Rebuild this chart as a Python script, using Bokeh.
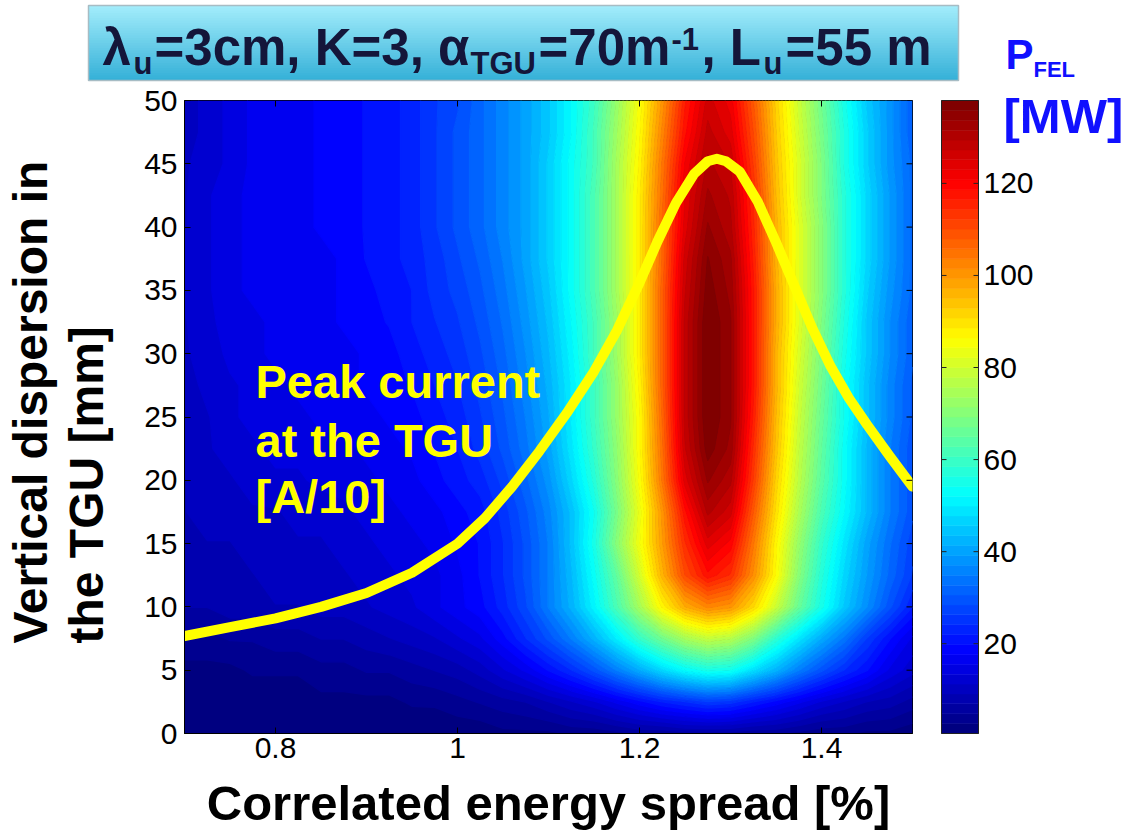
import numpy as np
from bokeh.plotting import figure
from bokeh.layouts import column, row
from bokeh.models import FixedTicker, Label, Range1d
from bokeh.core.properties import value
from bokeh.embed import file_html
from bokeh.resources import INLINE

# ---------------- data ----------------
# grid: correlated energy spread [%] (columns) and vertical dispersion [mm] (rows)
x_grid = [0.700, 0.725, 0.750, 0.775, 0.800, 0.825, 0.850, 0.875, 0.900, 0.925, 0.950,
          0.975, 1.000, 1.025, 1.050, 1.075, 1.100, 1.125, 1.150, 1.175, 1.200, 1.225,
          1.250, 1.275, 1.300, 1.325, 1.350, 1.375, 1.400, 1.425, 1.450, 1.475, 1.500]
y_grid = [0, 2.5, 5, 7.5, 10, 12.5, 15, 17.5, 20, 22.5, 25, 27.5, 30, 32.5, 35, 37.5,
          40, 42.5, 45, 47.5, 50]

# P_FEL [MW], one row per vertical dispersion value
p_y00_0 = [0.5,0.5,0.5,0.5,0.5,0.5,0.5,0.5,0.5,0.5,0.5,1,1,1,2,2,2,3,3,4,5,5,6,6,6,5,5,4,3,3,2,2,1]
p_y02_5 = [1,1,1,1,1,1,2,2,2,2,3,3,4,5,6,7,9,11,13,16,19,22,24,26,25,22,19,16,13,11,9,8,6]
p_y05_0 = [2,2,2,3,3,3,4,4,5,5,6,7,8,10,13,16,20,24,29,35,41,47,52,55,54,48,42,35,29,24,20,15,12]
p_y07_5 = [4,4,5,5,6,6,7,7,8,9,10,11,13,15,19,24,29,35,42,50,59,67,74,78,76,69,58,49,41,34,26,20,15]
p_y10_0 = [7,7,8,8,9,9,10,10,11,12,13,15,17,19,23,28,35,42,51,62,74,87,97,102,100,91,79,66,55,45,37,29,22]
p_y12_5 = [8,8,9,9,10,10,11,11,12,13,14,15,17,20,24,29,35,43,53,65,80,96,110,118,114,101,86,70,57,47,39,32,26]
p_y15_0 = [8,9,9,10,10,11,11,12,13,14,15,16,18,20,24,29,35,44,55,70,84,99,114,124,120,104,87,72,59,49,40,33,27]
p_y17_5 = [9,10,10,11,11,12,12,13,14,15,16,17,19,21,25,30,36,44,54,68,83,100,118,130,126,108,90,75,62,52,43,35,29]
p_y20_0 = [9,10,11,12,13,13,14,14,15,16,17,19,21,23,27,32,38,47,57,70,85,104,124,134,130,112,92,77,64,53,43,35,29]
p_y22_5 = [10,11,12,13,14,14,15,15,16,17,18,20,22,25,29,34,40,49,59,71,86,105,127,137,133,114,94,78,65,53,43,35,29]
p_y25_0 = [10,11,13,14,15,15,16,16,17,18,19,21,23,26,30,35,41,50,60,72,86,106,128,138,134,116,95,79,66,54,44,36,30]
p_y27_5 = [10,12,13,14,15,16,16,17,18,19,20,22,24,27,31,36,42,50,60,72,87,107,128,138,134,117,96,80,67,54,44,36,30]
p_y30_0 = [11,12,14,15,16,16,17,17,18,19,21,23,25,28,32,37,43,51,61,73,88,107,128,138,134,117,96,81,68,55,45,37,31]
p_y32_5 = [11,13,14,15,16,17,17,18,19,20,22,24,26,29,33,38,44,52,61,73,88,107,128,138,134,117,97,82,69,56,45,37,31]
p_y35_0 = [12,13,15,16,17,17,17,18,19,21,22,25,27,30,34,39,45,53,62,74,88,107,127,137,133,117,97,82,70,57,46,38,32]
p_y37_5 = [12,13,15,16,17,17,17,18,20,21,23,25,28,31,35,40,46,53,62,74,88,106,126,136,132,116,96,82,70,57,47,39,32]
p_y40_0 = [11,13,15,16,17,17,18,19,20,21,23,26,29,32,36,40,46,53,62,74,88,106,124,134,130,115,96,82,70,57,47,39,32]
p_y42_5 = [11,13,15,16,17,17,18,19,20,21,23,26,29,32,36,40,46,53,62,74,88,105,123,132,129,114,95,81,69,57,47,39,32]
p_y45_0 = [11,12,14,16,17,17,18,19,20,21,23,26,29,32,36,40,46,53,61,74,87,104,121,130,127,112,94,81,69,56,46,38,32]
p_y47_5 = [10,12,14,16,17,17,18,19,20,21,23,26,29,32,36,40,45,52,61,73,86,102,118,128,124,110,93,80,68,56,46,38,31]
p_y50_0 = [10,12,14,16,17,17,18,19,20,21,23,26,28,32,36,40,45,52,60,72,85,100,116,126,122,108,92,79,67,55,45,38,31]

# yellow curve: peak current at the TGU [A/10]
curve_x = [0.70, 0.75, 0.80, 0.85, 0.90, 0.95, 1.00, 1.03, 1.06, 1.09, 1.12, 1.15, 1.175,
           1.20, 1.22, 1.24, 1.26, 1.275, 1.285, 1.295, 1.31, 1.33, 1.35, 1.37, 1.39, 1.41,
           1.43, 1.45, 1.475, 1.50]
curve_y = [7.7, 8.4, 9.1, 10.0, 11.1, 12.7, 15.0, 17.0, 19.5, 22.3, 25.3, 28.6, 31.8,
           35.6, 38.9, 41.9, 44.2, 45.2, 45.4, 45.2, 44.4, 42.0, 38.8, 35.4, 32.0, 29.0,
           26.5, 24.4, 21.9, 19.5]

x_ticks = [0.8, 1.0, 1.2, 1.4]
x_tick_labels = ["0.8", "1", "1.2", "1.4"]
y_ticks = [0, 5, 10, 15, 20, 25, 30, 35, 40, 45, 50]
cb_ticks = [20, 40, 60, 80, 100, 120]
cb_tick_labels = ["20", "40", "60", "80", "100", "120"]
cb_low, cb_high = 0.5, 138.0

# ---------------- styling ----------------
def jet(n):
    cols = []
    for i in range(n):
        f = i / (n - 1)
        r = min(max(min(4 * f - 1.5, -4 * f + 4.5), 0), 1)
        g = min(max(min(4 * f - 0.5, -4 * f + 3.5), 0), 1)
        b = min(max(min(4 * f + 0.5, -4 * f + 2.5), 0), 1)
        cols.append("#%02x%02x%02x" % (int(round(r * 255)), int(round(g * 255)), int(round(b * 255))))
    return cols

FONT = "Liberation Sans"
TICK_FS = "30px"
W, H = 1131, 836
TOP_H = 82                      # height of the title strip
FRAME_L, FRAME_R, FRAME_T, FRAME_B = 184, 912, 100, 733
LEFT_W = 130                    # strip holding the y-axis title
MAIN_R = 920                    # right edge of the main figure
N_COL = 64
MID = 0.35                      # baseline -> middle offset (fraction of font size)
pal = jet(N_COL)


def mid(baseline, fs):
    return baseline - MID * fs


def deco_fig(w, h, xr, yr):
    f = figure(width=w, height=h, x_range=xr, y_range=yr, output_backend="svg",
               toolbar_location=None, x_axis_location=None, y_axis_location=None,
               min_border=0, min_border_left=0, min_border_right=0,
               min_border_top=0, min_border_bottom=0, frame_align=False)
    f.outline_line_color = None
    f.background_fill_color = "white"
    f.border_fill_color = "white"
    f.grid.visible = False
    return f

# ---------------- title strip ----------------
top = deco_fig(W, TOP_H, Range1d(0, W), Range1d(TOP_H, 0))
bx_l, bx_r, bx_t, bx_b = 88, 958, 5, 80
n_str = 30
top_c = np.array([164, 238, 252])
bot_c = np.array([52, 176, 216])
g_top, g_bot, g_col = [], [], []
for i in range(n_str):
    g_top.append(bx_t + i * (bx_b - bx_t) / n_str)
    g_bot.append(bx_t + (i + 1) * (bx_b - bx_t) / n_str + 0.4)
    c = top_c + (bot_c - top_c) * (i + 0.5) / n_str
    g_col.append("#%02x%02x%02x" % tuple(int(v) for v in c))
top.quad(left=bx_l, right=bx_r, top=g_top, bottom=g_bot, fill_color=g_col, line_color=None)
top.quad(left=bx_l, right=bx_r, top=bx_t, bottom=bx_b, fill_alpha=0, line_color="#a7bcc4",
         line_width=1.5)

TITLE_COL = "#14163a"
title_pieces = [
    ("λ", 102, 65, 51), ("u", 133, 74, 31), ("=3cm, K=3, α", 154, 65, 51),
    ("TGU", 470, 74, 31), ("=70m", 538, 65, 51), ("-1", 671, 49, 31),
    (", L", 701, 65, 51), ("u", 763, 74, 31), ("=55 m", 785, 65, 51),
]
for txt, cx, cy, fs in title_pieces:
    top.text(x=[cx], y=[mid(cy, fs)], text=[txt], text_font=value(FONT), text_font_style="bold",
             text_font_size=value(f"{fs}px"), text_color=TITLE_COL,
             text_align="left", text_baseline="middle")

PF_COL = "#1010ff"
top.text(x=[1005], y=[mid(69, 42)], text=["P"], text_font=value(FONT), text_font_style="bold",
         text_font_size=value("42px"), text_color=PF_COL, text_align="left",
         text_baseline="middle")
top.text(x=[1033], y=[mid(77, 22)], text=["FEL"], text_font=value(FONT), text_font_style="bold",
         text_font_size=value("22px"), text_color=PF_COL, text_align="left",
         text_baseline="middle")

# ---------------- y-axis title strip ----------------
BOT_H = H - TOP_H
left = deco_fig(LEFT_W, BOT_H, Range1d(0, LEFT_W), Range1d(H, TOP_H))
left.text(x=[mid(47, 48), mid(103, 48)], y=[643, 643],
          text=["Vertical dispersion in", "the TGU [mm]"],
          angle=np.pi / 2, text_font=value(FONT), text_font_style="bold",
          text_font_size=value("48px"), text_color="black",
          text_align="left", text_baseline="middle")

# ---------------- main plot ----------------
Z = np.array([p_y00_0, p_y02_5, p_y05_0, p_y07_5, p_y10_0, p_y12_5, p_y15_0, p_y17_5,
              p_y20_0, p_y22_5, p_y25_0, p_y27_5, p_y30_0, p_y32_5, p_y35_0, p_y37_5,
              p_y40_0, p_y42_5, p_y45_0, p_y47_5, p_y50_0], dtype=float)

main = figure(width=MAIN_R - LEFT_W, height=BOT_H,
              x_range=Range1d(x_grid[0], x_grid[-1]), y_range=Range1d(y_grid[0], y_grid[-1]),
              output_backend="svg", toolbar_location=None, frame_align=False,
              min_border_left=FRAME_L - LEFT_W, min_border_right=MAIN_R - FRAME_R,
              min_border_top=FRAME_T - TOP_H, min_border_bottom=H - FRAME_B)
main.background_fill_color = pal[0]
main.border_fill_color = "white"
main.outline_line_color = "black"
main.outline_line_width = 1
main.grid.visible = False

edges = list(np.linspace(cb_low, cb_high, N_COL + 1))
edges[0] = 0.0
edges[-1] = cb_high + 1.0
main.contour(x=x_grid, y=y_grid, z=Z, levels=edges, fill_color=pal,
             line_color=[pal[min(k, N_COL - 1)] for k in range(N_COL + 1)], line_width=1.2)

main.line(curve_x, curve_y, line_color="#ffff00", line_width=10, line_cap="round",
          line_join="round")

for ax in (main.xaxis[0], main.yaxis[0]):
    ax.major_label_text_font = FONT
    ax.major_label_text_font_size = TICK_FS
    ax.major_label_text_color = "black"
    ax.major_tick_in = 6
    ax.major_tick_out = 0
    ax.minor_tick_in = 0
    ax.minor_tick_out = 0
    ax.axis_line_color = "black"
    ax.major_tick_line_color = "black"

main.xaxis.ticker = FixedTicker(ticks=x_ticks)
main.xaxis.major_label_overrides = {v: s for v, s in zip(x_ticks, x_tick_labels)}
main.xaxis.major_label_standoff = 4
main.xaxis.axis_label = "Correlated energy spread [%]"
main.xaxis.axis_label_text_font = FONT
main.xaxis.axis_label_text_font_style = "bold"
main.xaxis.axis_label_text_font_size = "49px"
main.xaxis.axis_label_text_color = "black"
main.xaxis.axis_label_standoff = 15

main.yaxis.ticker = FixedTicker(ticks=y_ticks)
main.yaxis.major_label_standoff = 7

# mirrored tick marks on the top and right edges of the box (6 px long)
px_x = (x_grid[-1] - x_grid[0]) / (FRAME_R - FRAME_L)
px_y = (y_grid[-1] - y_grid[0]) / (FRAME_B - FRAME_T)
main.segment(x0=x_ticks, x1=x_ticks, y0=[y_grid[-1]] * len(x_ticks),
             y1=[y_grid[-1] - 6 * px_y] * len(x_ticks), line_color="black", line_width=1)
main.segment(x0=[x_grid[-1]] * len(y_ticks), x1=[x_grid[-1] - 6 * px_x] * len(y_ticks),
             y0=y_ticks, y1=y_ticks, line_color="black", line_width=1)

for txt, cy in [("Peak current", 397), ("at the TGU", 456), ("[A/10]", 512)]:
    main.add_layout(Label(x=255 - FRAME_L, y=FRAME_B - mid(cy, 47), x_units="screen",
                          y_units="screen", text=txt, text_font=FONT,
                          text_font_style="bold", text_font_size="47px",
                          text_color="#ffff00", text_align="left", text_baseline="middle"))

# ---------------- colour bar strip ----------------
ppu = (FRAME_B - FRAME_T) / (cb_high - cb_low)
cb_y0 = cb_low - (H - FRAME_B) / ppu
cb_y1 = cb_high + (FRAME_T - TOP_H) / ppu
cbar = deco_fig(W - MAIN_R, BOT_H, Range1d(MAIN_R, W), Range1d(cb_y0, cb_y1))
cbar.extra_y_ranges = {"px": Range1d(H, TOP_H)}
BAR_L, BAR_R = 941, 978
cb_edges = list(np.linspace(cb_low, cb_high, N_COL + 1))
cbar.quad(left=BAR_L, right=BAR_R, bottom=cb_edges[:-1], top=cb_edges[1:],
          fill_color=pal, line_color=pal, line_width=0.6)
cbar.quad(left=BAR_L, right=BAR_R, bottom=cb_low, top=cb_high, fill_alpha=0,
          line_color="#222222", line_width=1)
cbar.segment(x0=[BAR_L] * len(cb_ticks), x1=[BAR_L + 5] * len(cb_ticks), y0=cb_ticks,
             y1=cb_ticks, line_color="#222222", line_width=1)
cbar.segment(x0=[BAR_R - 5] * len(cb_ticks), x1=[BAR_R] * len(cb_ticks), y0=cb_ticks,
             y1=cb_ticks, line_color="#222222", line_width=1)
cbar.text(x=[BAR_R + 5] * len(cb_ticks), y=cb_ticks, text=cb_tick_labels,
          text_font=value(FONT), text_font_size=value(TICK_FS), text_color="black",
          text_align="left", text_baseline="middle")
cbar.text(x=[1003], y=[mid(133, 49)], text=["[MW]"], y_range_name="px", text_font=value(FONT),
          text_font_style="bold", text_font_size=value("49px"), text_color=PF_COL,
          text_align="left", text_baseline="middle")

layout = column(top, row(left, main, cbar, spacing=0), spacing=0)
open("out.html", "w").write(file_html(layout, INLINE))
